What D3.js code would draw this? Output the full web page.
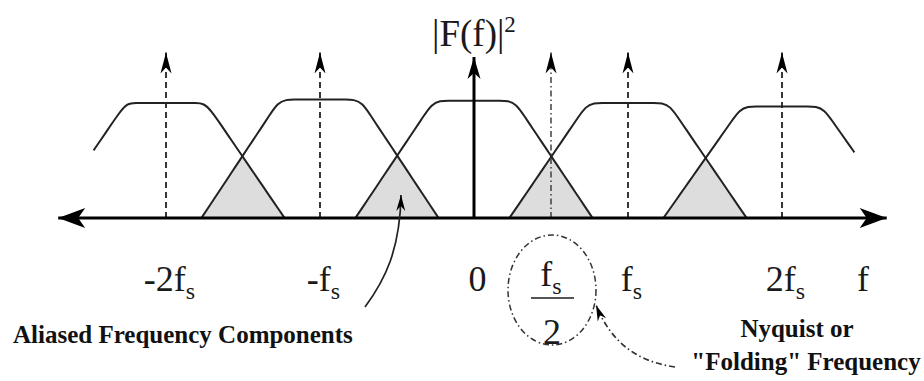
<!DOCTYPE html>
<html>
<head>
<meta charset="utf-8">
<script src="https://cdn.jsdelivr.net/npm/d3@7"></script>
<style>
  html, body { margin: 0; padding: 0; background: #fff; }
  svg { display: block; }
  svg text { font-family: "Liberation Serif", "Times New Roman", "DejaVu Serif", serif; }
</style>
</head>
<body>
<svg id="chart" width="924" height="381"></svg>
<script>
// Spectral replicas of a band-limited signal, centred on multiples of fs (units of fs)
const replicaCenters = [-2, -1, 0, 1, 2];
const replicaHeights = [1.0, 1.03, 1.02, 1.0, 0.97];
const plateauHalfWidth = 0.26;
const bandEdge = 0.77;
const visibleRange = [-2.47, 2.47];

// Sampling impulses (dashed), origin axis arrow and the folding frequency
const impulseCenters = [-2, -1, 1, 2];
const impulseHeight = 1.44;
const originArrowHeight = 1.40;
const nyquist = 0.5;
const axisExtent = [-2.70, 2.68];

// Frequency-axis tick labels: [main text, subscript]
const tickValues = [-2, -1, 0, 1, 2];
const tickLabels = [["-2f", "s"], ["-f", "s"], ["0", ""], ["f", "s"], ["2f", "s"]];

const svg = d3.select("#chart");
const x = d3.scaleLinear().domain([-2, 2]).range([166, 782]);
const y = d3.scaleLinear().domain([0, 1]).range([218, 103]);

const ink = "#1a1a1a";

// Arrowhead markers with a notched back
const defs = svg.append("defs");
function arrowMarker(id, len, wid, notch) {
  defs.append("marker")
    .attr("id", id)
    .attr("markerUnits", "userSpaceOnUse")
    .attr("viewBox", `${-len - 1} ${-wid / 2 - 1} ${len + 2} ${wid + 2}`)
    .attr("refX", 0).attr("refY", 0)
    .attr("markerWidth", len + 2).attr("markerHeight", wid + 2)
    .attr("orient", "auto")
    .append("path")
    .attr("d", `M0,0 L${-len},${-wid / 2} L${-len + notch},0 L${-len},${wid / 2} Z`)
    .attr("fill", "#000");
}
arrowMarker("head-small", 21, 11, 6);
arrowMarker("head-origin", 22, 13, 6);
arrowMarker("head-axis", 27, 20, 7);
arrowMarker("head-note", 16, 9, 5);

// Magnitude of replica i at frequency f
function replica(f, i) {
  const k = replicaCenters[i];
  const v = (bandEdge - Math.abs(f - k)) / (bandEdge - plateauHalfWidth);
  return replicaHeights[i] * Math.max(0, Math.min(1, v));
}

// Shaded overlap (aliased) regions between neighbouring replicas
const overlapArea = d3.area()
  .x(d => x(d.f)).y0(y(0)).y1(d => y(d.v))
  .curve(d3.curveLinear);
for (let i = 0; i < replicaCenters.length - 1; i++) {
  const lo = replicaCenters[i + 1] - bandEdge;
  const hi = replicaCenters[i] + bandEdge;
  const pts = d3.range(lo, hi, 0.005).concat([hi])
    .map(f => ({ f, v: Math.min(replica(f, i), replica(f, i + 1)) }));
  svg.append("path")
    .attr("d", overlapArea(pts))
    .attr("fill", "#dddddd")
    .attr("stroke", "none");
}

// Replica outlines with softened corners
const outline = d3.line().x(d => x(d.f)).y(d => y(d.v)).curve(d3.curveBasis);
replicaCenters.forEach((k, i) => {
  const lo = Math.max(k - bandEdge, visibleRange[0]);
  const hi = Math.min(k + bandEdge, visibleRange[1]);
  const pts = d3.range(lo, hi, 0.055).concat([hi]).map(f => ({ f, v: replica(f, i) }));
  svg.append("path")
    .attr("d", outline(pts))
    .attr("fill", "none")
    .attr("stroke", "#222")
    .attr("stroke-width", 2)
    .attr("stroke-linejoin", "round");
});

// Dashed sampling impulses
svg.selectAll(".impulse")
  .data(impulseCenters)
  .join("line")
  .attr("class", "impulse")
  .attr("x1", d => x(d)).attr("x2", d => x(d))
  .attr("y1", y(0)).attr("y2", y(impulseHeight))
  .attr("stroke", "#222").attr("stroke-width", 1.8)
  .attr("stroke-dasharray", "6,4")
  .attr("marker-end", "url(#head-small)");

// Dash-dot marker at the folding frequency
svg.append("line")
  .attr("x1", x(nyquist)).attr("x2", x(nyquist))
  .attr("y1", y(0)).attr("y2", y(impulseHeight))
  .attr("stroke", "#333").attr("stroke-width", 1.4)
  .attr("stroke-dasharray", "6,3,1.5,3")
  .attr("marker-end", "url(#head-small)");

// Vertical |F(f)|^2 axis at the origin
svg.append("line")
  .attr("x1", x(0)).attr("x2", x(0))
  .attr("y1", y(0)).attr("y2", y(originArrowHeight))
  .attr("stroke", "#000").attr("stroke-width", 3)
  .attr("marker-end", "url(#head-origin)");

// Two-sided frequency axis
svg.append("line")
  .attr("x1", x(0)).attr("x2", x(axisExtent[1]))
  .attr("y1", y(0)).attr("y2", y(0))
  .attr("stroke", "#000").attr("stroke-width", 3)
  .attr("marker-end", "url(#head-axis)");
svg.append("line")
  .attr("x1", x(0)).attr("x2", x(axisExtent[0]))
  .attr("y1", y(0)).attr("y2", y(0))
  .attr("stroke", "#000").attr("stroke-width", 3)
  .attr("marker-end", "url(#head-axis)");

// Tick labels with subscripts
const gAxis = svg.append("g")
  .attr("transform", "translate(3,0)")
  .call(d3.axisBottom(x).tickValues(tickValues).tickSize(0).tickFormat(""));
gAxis.select(".domain").remove();
gAxis.attr("font-family", null).attr("font-size", 36);
gAxis.selectAll(".tick text").each(function (d) {
  const lbl = tickLabels[tickValues.indexOf(d)];
  const t = d3.select(this)
    .attr("y", 291).attr("dy", 0)
    .attr("fill", ink).attr("text-anchor", "middle")
    .attr("font-size", 36);
  t.append("tspan").text(lbl[0]);
  if (lbl[1]) t.append("tspan").attr("font-size", 24).attr("dy", 8).text(lbl[1]);
});

// Axis names
svg.append("text")
  .attr("x", 863).attr("y", 291)
  .attr("text-anchor", "middle")
  .attr("font-size", 36).attr("fill", ink)
  .text("f");

const yTitle = svg.append("text")
  .attr("x", 432).attr("y", 46)
  .attr("font-size", 37).attr("fill", ink);
yTitle.append("tspan").text("|F(f)|");
yTitle.append("tspan").attr("font-size", 23).attr("dy", -14).text("2");

// fs / 2 fraction at the folding frequency
const nx = x(nyquist);
const frac = svg.append("text")
  .attr("x", nx).attr("y", 286)
  .attr("text-anchor", "middle")
  .attr("font-size", 36).attr("fill", ink);
frac.append("tspan").text("f");
frac.append("tspan").attr("font-size", 24).attr("dy", 8).text("s");
svg.append("line")
  .attr("x1", nx - 20).attr("x2", nx + 23)
  .attr("y1", 298).attr("y2", 298)
  .attr("stroke", "#555").attr("stroke-width", 2.2);
svg.append("text")
  .attr("x", nx + 1).attr("y", 344)
  .attr("text-anchor", "middle")
  .attr("font-size", 36).attr("fill", ink)
  .text("2");

// Dash-dot ring around the folding frequency
svg.append("ellipse")
  .attr("cx", nx + 1).attr("cy", 290)
  .attr("rx", 44).attr("ry", 55)
  .attr("fill", "none")
  .attr("stroke", "#333").attr("stroke-width", 1.5)
  .attr("stroke-dasharray", "6,3,1.5,3");

// Callout arrows
svg.append("path")
  .attr("d", `M365,307 C385,280 400,250 ${x(-0.5) + 4},195`)
  .attr("fill", "none").attr("stroke", "#222").attr("stroke-width", 1.7)
  .attr("marker-end", "url(#head-note)");
svg.append("path")
  .attr("d", `M675,367 C640,362 612,345 ${nx + 45},305`)
  .attr("fill", "none").attr("stroke", "#333").attr("stroke-width", 1.7)
  .attr("stroke-dasharray", "6,3,1.5,3")
  .attr("marker-end", "url(#head-note)");

// Bold annotations
const bold = (txt, xx, yy, anchor) => svg.append("text")
  .attr("x", xx).attr("y", yy)
  .attr("text-anchor", anchor)
  .attr("font-weight", "bold")
  .attr("font-size", 25).attr("fill", "#111")
  .text(txt);
bold("Aliased Frequency Components", 13, 343, "start");
bold("Nyquist or", 797, 337, "middle");
bold("\"Folding\" Frequency", 806, 370, "middle");
</script>
</body>
</html>
